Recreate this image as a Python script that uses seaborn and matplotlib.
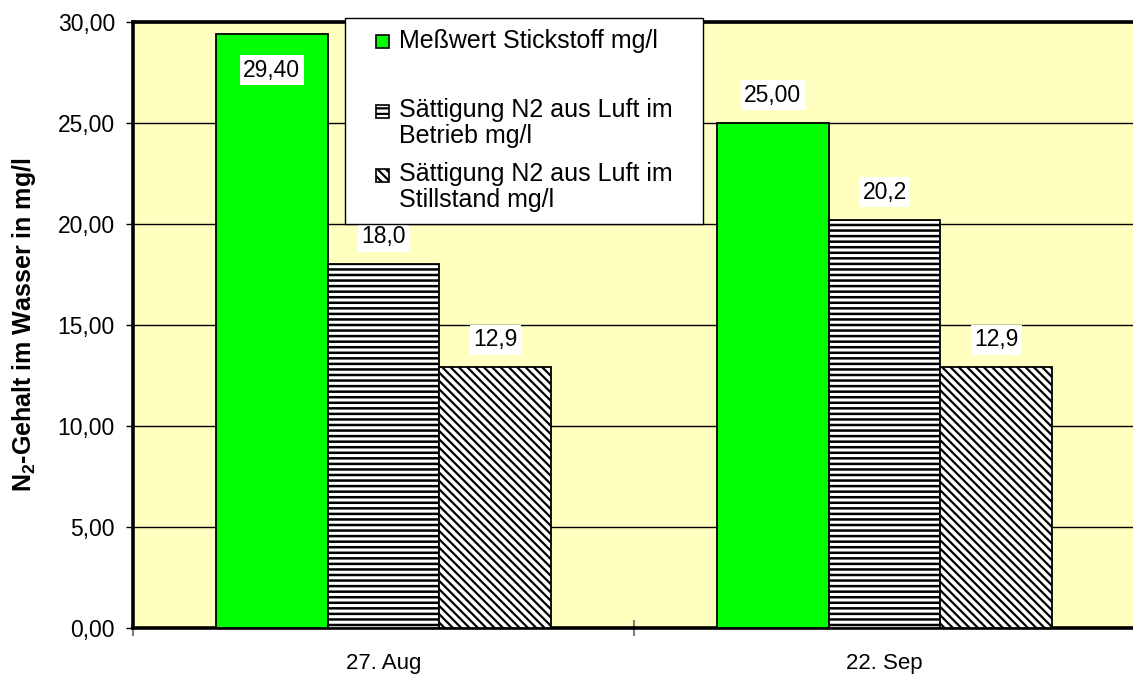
import matplotlib
matplotlib.use("Agg")
import matplotlib.pyplot as plt
from matplotlib.patches import Patch, Rectangle
from matplotlib.legend_handler import HandlerPatch
from matplotlib.ticker import FuncFormatter, FixedLocator
import seaborn as sns
import pandas as pd

# --- data ---------------------------------------------------------------
dates = ["27. Aug", "22. Sep"]
series = [
    "Meßwert Stickstoff mg/l",
    "Sättigung N2 aus Luft im Betrieb mg/l",
    "Sättigung N2 aus Luft im Stillstand mg/l",
]
legend_labels = [
    "Meßwert Stickstoff mg/l\n",
    "Sättigung N2 aus Luft im\nBetrieb mg/l",
    "Sättigung N2 aus Luft im\nStillstand mg/l",
]
measured = [29.40, 25.00]
sat_running = [18.0, 20.2]
sat_standstill = [12.9, 12.9]
decimals = [2, 1, 1]

df = pd.DataFrame({
    "Datum": dates * 3,
    "Reihe": [series[0]] * 2 + [series[1]] * 2 + [series[2]] * 2,
    "Wert": measured + sat_running + sat_standstill,
})

# --- style --------------------------------------------------------------
sns.set_theme(style="white")
plt.rcParams["font.family"] = ["Liberation Sans", "DejaVu Sans"]
plt.rcParams["mathtext.fontset"] = "custom"
plt.rcParams["mathtext.rm"] = "Liberation Sans"
plt.rcParams["mathtext.bf"] = "Liberation Sans:bold"
plt.rcParams["hatch.linewidth"] = 1.6
for key in ["text.color", "axes.labelcolor", "xtick.color", "ytick.color",
            "xtick.labelcolor", "ytick.labelcolor"]:
    plt.rcParams[key] = "black"

green = "#00FF00"
plot_bg = "#FFFFC0"
styles = [
    dict(facecolor=green, hatch=None, hlw=1.6),
    dict(facecolor="white", hatch="---", hlw=1.8),
    dict(facecolor="white", hatch="\\\\\\\\", hlw=1.6),
]

fig = plt.figure(figsize=(11.33, 6.77), dpi=100)
ax = fig.add_axes([0.1174, 0.0724, 0.8844, 0.8951])
ax.set_facecolor(plot_bg)

sns.barplot(data=df, x="Datum", y="Wert", hue="Reihe", hue_order=series,
            palette=[green, "white", "white"], width=0.67,
            edgecolor="black", linewidth=1.3, saturation=1,
            legend=False, ax=ax, zorder=3)

for cont, st in zip(ax.containers, styles):
    for bar in cont:
        bar.set_facecolor(st["facecolor"])
        bar.set_edgecolor("black")
        if st["hatch"]:
            bar.set_hatch(st["hatch"])
            if hasattr(bar, "set_hatch_linewidth"):
                bar.set_hatch_linewidth(st["hlw"])

# --- axes ---------------------------------------------------------------
ax.set_ylim(0, 30)
ax.set_xlim(-0.5, 1.5)
ax.set_yticks(range(0, 31, 5))
ax.yaxis.set_major_formatter(FuncFormatter(lambda v, p: f"{v:.2f}".replace(".", ",")))
ax.grid(axis="y", color="black", linewidth=1.0, zorder=1)
ax.set_axisbelow(True)

ax.tick_params(axis="y", which="major", direction="out", length=5, width=1,
               color="black", pad=8, labelsize=16.5, left=True)
ax.tick_params(axis="x", which="major", length=0, pad=18, labelsize=16)
ax.xaxis.set_minor_locator(FixedLocator([-0.5, 0.5, 1.5]))
ax.tick_params(axis="x", which="minor", direction="inout", length=12,
               width=1.5, color="#808080", bottom=True)
ax.set_xlabel("")
ax.set_ylabel(r"N$_\mathbf{2}$-Gehalt im Wasser in mg/l", fontsize=18,
              fontweight="bold")
ax.yaxis.set_label_coords(-0.095, 0.5)

for side in ["left", "bottom", "top"]:
    ax.spines[side].set_visible(True)
    ax.spines[side].set_color("black")
    ax.spines[side].set_linewidth(2.6)
ax.spines["right"].set_visible(False)

# --- value labels -------------------------------------------------------
for cont, nd in zip(ax.containers, decimals):
    for bar in cont:
        h = bar.get_height()
        txt = f"{h:.{nd}f}".replace(".", ",")
        inside = h > 27
        ax.annotate(txt, (bar.get_x() + bar.get_width() / 2, h),
                    xytext=(0, -26 if inside else 20), textcoords="offset points",
                    ha="center", va="center", fontsize=16.5, zorder=6,
                    bbox=dict(boxstyle="square,pad=0.15", fc="white", ec="none"))

# --- legend -------------------------------------------------------------
def square_key(lift):
    # small square key at the right of the handle box, level with the first text line
    def make(legend, orig_handle, xdescent, ydescent, width, height, fontsize):
        side = 0.52 * fontsize
        x0 = -xdescent + width - side
        y0 = -ydescent + (height - side) / 2 + lift * fontsize
        return Rectangle((x0, y0), side, side)
    return make

line_spacings = [1.38, 1.12, 1.12]
handles = [Patch(facecolor=st["facecolor"], edgecolor="black",
                 hatch=st["hatch"], linewidth=1.2) for st in styles]
hmap = {h: HandlerPatch(patch_func=square_key(0.447 * ls))
        for h, ls in zip(handles, line_spacings)}
leg = ax.legend(handles, legend_labels, loc="upper left",
                bbox_to_anchor=(0.212, 1.007, 0.357, 0.0), mode="expand",
                fontsize=18,
                handlelength=1.3, handleheight=0.7, handletextpad=0.4,
                labelspacing=0.55, borderpad=0.45, borderaxespad=0,
                frameon=True, fancybox=False, shadow=False,
                handler_map=hmap)
leg.get_frame().set_edgecolor("black")
leg.get_frame().set_linewidth(1.0)
leg.get_frame().set_facecolor("white")
leg.get_frame().set_alpha(1)
leg.set_zorder(10)
for t, ls in zip(leg.get_texts(), line_spacings):
    t.set_linespacing(ls)

fig.savefig("out.png", dpi=100, facecolor="white")
